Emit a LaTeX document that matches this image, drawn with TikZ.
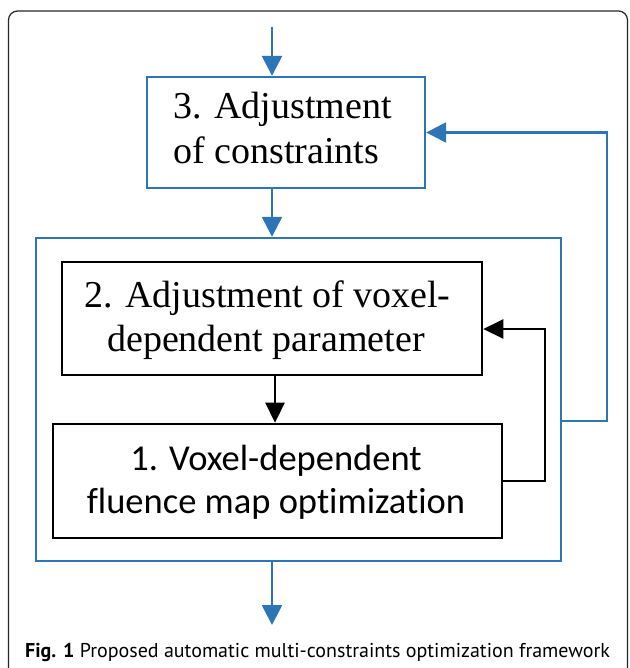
\documentclass[tikz,border=0pt]{standalone}
\usepackage{fontspec}
\setmainfont{Liberation Serif}
\newfontfamily\boxsans[RawFeature=-liga]{Carlito}
\newfontfamily\capfont{PT Sans}
\usetikzlibrary{arrows.meta,calc}
\definecolor{flowblue}{RGB}{46,117,182}
\tikzset{
  bluebox/.style={draw=flowblue, line width=2.4pt, inner sep=0pt},
  blackbox/.style={draw=black, line width=2.6pt, inner sep=0pt},
  blueflow/.style={draw=flowblue, line width=2.6pt, -{Triangle[width=20pt,length=20pt]}},
  blackflow/.style={draw=black, line width=2.6pt, -{Triangle[width=19pt,length=20pt]}},
  serifline/.style={inner sep=0pt, font=\fontsize{38}{44}\selectfont},
  sansline/.style={inner sep=0pt, font=\boxsans\fontsize{36.5}{43}\selectfont},
}
\begin{document}
\begin{tikzpicture}[x=1pt,y=-1pt]
\useasboundingbox (0,0) rectangle (629,668);
\clip (0,0) rectangle (629,668);
% outer figure frame
\draw[black!85, line width=1.2pt, rounded corners=9pt] (8.5,11) rectangle (627.5,690);

% boxes
\node (adjc) [bluebox, minimum width=278pt, minimum height=111pt] at (286,132.5) {};
\node (loop) [bluebox, minimum width=525pt, minimum height=323pt] at (298.5,399.5) {};
\node (adjv) [blackbox, minimum width=420pt, minimum height=113pt] at (272,318.5) {};
\node (fmo)  [blackbox, minimum width=449pt, minimum height=114pt] at (277.5,481) {};

% box texts
\node (adjc1) [serifline, anchor=base west] at (173,119) {3. Adjustment};
\node (adjc2) [serifline, anchor=base west] at (173,164) {of constraints};
\node (adjv1) [serifline, anchor=base] at (267.5,307) {2. Adjustment of voxel-};
\node (adjv2) [serifline, anchor=base] at (266,351) {dependent parameter};
\node (fmo1)  [sansline, anchor=base] at (276,470) {1. Voxel-dependent};
\node (fmo2)  [sansline, anchor=base] at (276,513) {fluence map optimization};

% connector end points
\coordinate (start) at (272,27);
\coordinate (finish) at (272,625);
\coordinate (inner) at (275,0);
\coordinate (backv) at (545,329);
\coordinate (backc) at (607,132.5);

% main flow
\draw[blueflow] (start) -- (start |- adjc.north);
\draw[blueflow] (adjc.south -| start) -- (loop.north -| start);
\draw[blueflow] (loop.south -| start) -- (finish);
\draw[blackflow] (adjv.south -| inner) -- (fmo.north -| inner);

% feedback loops
\draw[blackflow] (fmo.east) -| (backv) -- (backv -| adjv.east);
\draw[blueflow] (loop.east |- 0,421) -| (backc) -- (adjc.east);

% caption
\node (cap) [inner sep=0pt, anchor=base west, font=\capfont\fontsize{20}{23}\selectfont] at (25,657)
  {\textbf{Fig. 1} Proposed automatic multi-constraints optimization framework};
\end{tikzpicture}
\end{document}
